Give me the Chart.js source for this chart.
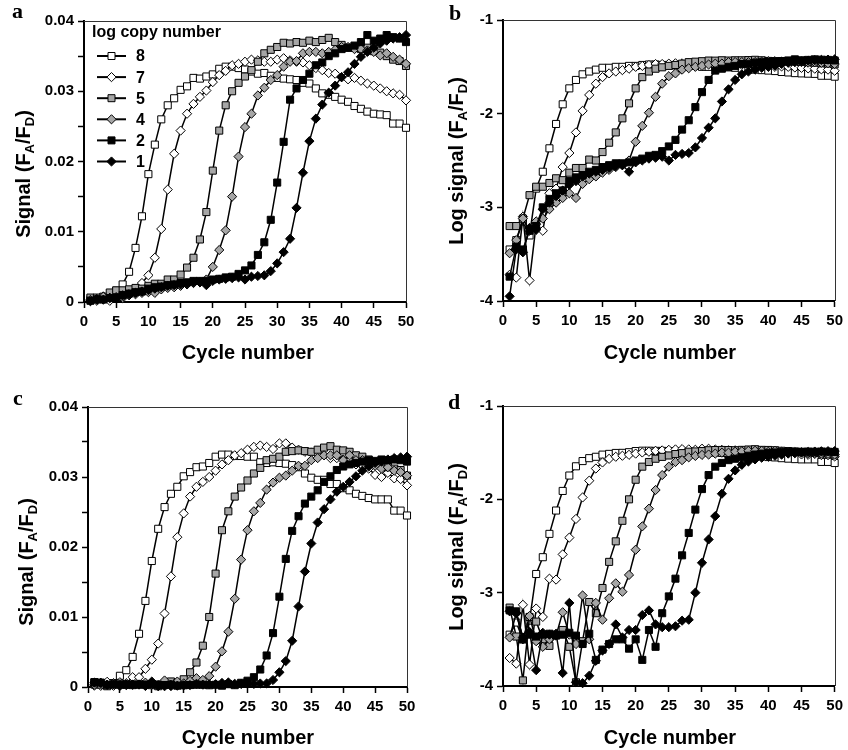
<!DOCTYPE html>
<html lang="en">
<head>
<meta charset="UTF-8">
<title>Signal vs cycle number</title>
<script src="https://cdn.jsdelivr.net/npm/chart.js"></script>
<style>
  body { margin: 0; background: #fff; }
  #page { position: relative; width: 848px; height: 750px; background: #fff;
          font-family: "Liberation Sans", Arial, sans-serif; font-weight: bold; color: #000; }
  canvas { position: absolute; }
  .letter { position: absolute; font-family: "Liberation Serif", "Times New Roman", serif;
            font-weight: bold; font-size: 22px; line-height: 22px; }
  .xtitle { position: absolute; font-size: 20px; line-height: 20px; white-space: nowrap;
            transform: translateX(-50%); }
  .ytitle { position: absolute; font-size: 20px; line-height: 20px; white-space: nowrap;
            transform: translate(-50%, -50%) rotate(-90deg); }
  .sb { font-size: 13px; position: relative; top: 4px; }
</style>
</head>
<body>
<div id="page">
  <canvas id="chartA" width="424" height="375" style="left:0;top:0"></canvas>
  <canvas id="chartB" width="424" height="375" style="left:424px;top:0"></canvas>
  <canvas id="chartC" width="424" height="375" style="left:0;top:375px"></canvas>
  <canvas id="chartD" width="424" height="375" style="left:424px;top:375px"></canvas>

  <div class="letter" style="left:12px;top:0">a</div>
  <div class="letter" style="left:449px;top:2px">b</div>
  <div class="letter" style="left:13px;top:387px">c</div>
  <div class="letter" style="left:448px;top:391px">d</div>

  <div class="ytitle" style="left:24px;top:174px">Signal (F<span class="sb">A</span>/F<span class="sb">D</span>)</div>
  <div class="ytitle" style="left:457px;top:161px">Log signal (F<span class="sb">A</span>/F<span class="sb">D</span>)</div>
  <div class="ytitle" style="left:27px;top:562px">Signal (F<span class="sb">A</span>/F<span class="sb">D</span>)</div>
  <div class="ytitle" style="left:457px;top:547px">Log signal (F<span class="sb">A</span>/F<span class="sb">D</span>)</div>

  <div class="xtitle" style="left:248px;top:342px">Cycle number</div>
  <div class="xtitle" style="left:670px;top:342px">Cycle number</div>
  <div class="xtitle" style="left:248px;top:727px">Cycle number</div>
  <div class="xtitle" style="left:670px;top:727px">Cycle number</div>
</div>

<script>
// cycle numbers on the x axis
var cycles = [1,2,3,4,5,6,7,8,9,10,11,12,13,14,15,16,17,18,19,20,21,22,23,24,25,
              26,27,28,29,30,31,32,33,34,35,36,37,38,39,40,41,42,43,44,45,46,47,48,49,50];

// legend: log copy number of each series
var copyNumbers = ['8', '7', '5', '4', '2', '1'];

// panel a - signal
var a8 = [0.0004,0.00045,0.0007,0.0005,0.0016,0.0025,0.0043,0.0077,0.0122,0.0182,0.0224,0.026,0.028,0.029,0.0302,0.0307,0.0319,0.0318,0.0321,0.0324,0.0332,0.0335,0.0335,0.0333,0.0331,0.0328,0.0325,0.0326,0.0322,0.0319,0.0318,0.0317,0.0316,0.0312,0.0311,0.0304,0.0297,0.0295,0.0292,0.0288,0.0285,0.0279,0.0275,0.0271,0.0268,0.0267,0.0266,0.0254,0.0254,0.0248];
var a7 = [0.0002,0.00018,0.0008,0.00017,0.00066,0.00056,0.0014,0.0016,0.0027,0.0038,0.0063,0.0104,0.016,0.0211,0.0244,0.0268,0.0282,0.0292,0.0301,0.0313,0.0323,0.0329,0.0337,0.0339,0.0342,0.0345,0.0344,0.0342,0.0342,0.0345,0.0347,0.0344,0.0342,0.0341,0.0337,0.0333,0.033,0.0326,0.0325,0.032,0.0317,0.0319,0.0315,0.0311,0.0308,0.0304,0.03,0.0297,0.0295,0.0287];
var a5 = [0.00063,0.00063,0.00076,0.00135,0.00166,0.00166,0.0018,0.002,0.0019,0.0023,0.0026,0.0026,0.0032,0.0032,0.0039,0.0049,0.0063,0.0089,0.0128,0.0187,0.0244,0.028,0.03,0.0312,0.0321,0.033,0.0342,0.0354,0.0359,0.0363,0.0369,0.0368,0.037,0.0369,0.0372,0.037,0.0373,0.0376,0.037,0.0366,0.0362,0.0362,0.036,0.0362,0.0357,0.0355,0.035,0.0345,0.0343,0.0336];
var a4 = [0.0003,0.00045,0.00076,0.00056,0.0007,0.00076,0.00095,0.0011,0.0013,0.0014,0.0013,0.0018,0.002,0.0021,0.0023,0.0025,0.0027,0.0028,0.0032,0.005,0.0074,0.0102,0.015,0.0207,0.0249,0.0268,0.0294,0.0305,0.0316,0.0323,0.0335,0.0342,0.0343,0.0354,0.0356,0.0356,0.0354,0.0356,0.0359,0.0363,0.0363,0.036,0.036,0.0358,0.0356,0.0351,0.0354,0.0349,0.0345,0.0339];
var a2 = [0.00018,0.00038,0.00035,0.00056,0.00063,0.001,0.0012,0.0014,0.0015,0.0019,0.0021,0.0022,0.0024,0.0025,0.0027,0.0028,0.003,0.003,0.003,0.0032,0.0033,0.0035,0.0036,0.004,0.0045,0.0052,0.0067,0.0085,0.0117,0.017,0.0228,0.0288,0.0304,0.0316,0.0325,0.0337,0.0341,0.035,0.0354,0.036,0.0362,0.0365,0.037,0.038,0.0372,0.0375,0.038,0.0377,0.0375,0.037];
var a1 = [0.00011,0.00035,0.00033,0.0006,0.00058,0.00095,0.0011,0.0013,0.0015,0.0017,0.0019,0.0021,0.0023,0.0024,0.0025,0.0026,0.0028,0.0028,0.0024,0.003,0.0032,0.0033,0.0034,0.0035,0.0032,0.0036,0.0037,0.0038,0.0044,0.0055,0.0071,0.009,0.0134,0.0184,0.0229,0.0261,0.0281,0.0298,0.0308,0.032,0.0327,0.0339,0.0349,0.0356,0.0362,0.0368,0.0372,0.0375,0.0377,0.038];

// panel b - log signal
var b8 = [-3.45,-3.35,-3.15,-3.30,-2.80,-2.62,-2.37,-2.11,-1.90,-1.73,-1.64,-1.58,-1.55,-1.53,-1.51,-1.51,-1.50,-1.50,-1.49,-1.49,-1.48,-1.475,-1.475,-1.48,-1.48,-1.485,-1.49,-1.49,-1.49,-1.50,-1.50,-1.50,-1.50,-1.506,-1.51,-1.52,-1.53,-1.53,-1.535,-1.54,-1.545,-1.555,-1.56,-1.567,-1.57,-1.573,-1.575,-1.595,-1.595,-1.605];
var b7 = [-3.72,-3.75,-3.10,-3.78,-3.18,-3.25,-2.85,-2.80,-2.57,-2.42,-2.20,-1.97,-1.80,-1.68,-1.61,-1.57,-1.55,-1.535,-1.52,-1.50,-1.49,-1.48,-1.47,-1.47,-1.466,-1.462,-1.463,-1.466,-1.466,-1.462,-1.46,-1.463,-1.466,-1.467,-1.47,-1.478,-1.48,-1.487,-1.488,-1.495,-1.50,-1.496,-1.50,-1.507,-1.511,-1.517,-1.52,-1.527,-1.53,-1.542];
var b5 = [-3.2,-3.2,-3.12,-2.87,-2.78,-2.78,-2.74,-2.69,-2.71,-2.63,-2.58,-2.58,-2.49,-2.50,-2.41,-2.31,-2.20,-2.05,-1.89,-1.73,-1.61,-1.55,-1.52,-1.505,-1.49,-1.48,-1.466,-1.45,-1.445,-1.44,-1.433,-1.434,-1.43,-1.433,-1.43,-1.43,-1.428,-1.425,-1.43,-1.437,-1.44,-1.44,-1.444,-1.44,-1.447,-1.45,-1.456,-1.462,-1.465,-1.474];
var b4 = [-3.49,-3.35,-3.12,-3.25,-3.15,-3.12,-3.02,-2.95,-2.90,-2.85,-2.90,-2.75,-2.70,-2.67,-2.63,-2.60,-2.57,-2.55,-2.50,-2.30,-2.13,-1.99,-1.82,-1.68,-1.60,-1.57,-1.53,-1.515,-1.50,-1.49,-1.475,-1.466,-1.465,-1.45,-1.449,-1.449,-1.45,-1.449,-1.445,-1.44,-1.44,-1.444,-1.444,-1.446,-1.449,-1.455,-1.451,-1.457,-1.462,-1.47];
var b2 = [-3.74,-3.42,-3.45,-3.25,-3.20,-3.00,-2.91,-2.85,-2.82,-2.72,-2.68,-2.66,-2.62,-2.60,-2.57,-2.55,-2.53,-2.53,-2.52,-2.50,-2.48,-2.45,-2.44,-2.40,-2.35,-2.28,-2.17,-2.07,-1.93,-1.77,-1.64,-1.54,-1.52,-1.50,-1.49,-1.47,-1.467,-1.456,-1.451,-1.444,-1.441,-1.438,-1.432,-1.42,-1.43,-1.426,-1.42,-1.424,-1.426,-1.432];
var b1 = [-3.95,-3.45,-3.48,-3.22,-3.24,-3.02,-2.95,-2.88,-2.82,-2.76,-2.72,-2.67,-2.64,-2.62,-2.60,-2.58,-2.56,-2.55,-2.62,-2.52,-2.50,-2.48,-2.47,-2.46,-2.50,-2.44,-2.43,-2.42,-2.36,-2.26,-2.15,-2.05,-1.87,-1.74,-1.64,-1.58,-1.55,-1.53,-1.51,-1.50,-1.485,-1.47,-1.457,-1.449,-1.441,-1.434,-1.429,-1.426,-1.423,-1.42];

// panel c - signal
var c8 = [0.00035,0.00048,0.00032,0.0005,0.0016,0.0024,0.0043,0.0076,0.0123,0.018,0.0226,0.0257,0.0276,0.0286,0.0301,0.0307,0.0314,0.0315,0.032,0.0329,0.0332,0.0332,0.033,0.033,0.0329,0.0329,0.0321,0.032,0.0321,0.032,0.0319,0.0317,0.0314,0.0305,0.0299,0.0296,0.0296,0.029,0.029,0.0284,0.0281,0.0276,0.0273,0.027,0.0268,0.0268,0.0268,0.0252,0.0252,0.0245];
var c7 = [0.0002,0.00017,0.00074,0.00017,0.00068,0.00055,0.0014,0.0014,0.0026,0.0039,0.0062,0.0105,0.0158,0.0214,0.0248,0.0272,0.0286,0.0293,0.03,0.0309,0.0318,0.0324,0.0331,0.0334,0.0339,0.0343,0.0345,0.0343,0.034,0.0348,0.0348,0.0342,0.0339,0.0336,0.0335,0.0333,0.0331,0.0327,0.0327,0.0325,0.0323,0.0318,0.0316,0.0312,0.0303,0.03,0.0306,0.0298,0.0297,0.0288];
var c5 = [0.0007,0.00034,0.00011,0.00055,0.00049,0.00032,0.00027,0.00035,0.0004,0.00026,0.00011,0.0003,0.00079,0.0006,0.0011,0.0021,0.0035,0.0059,0.01,0.0162,0.0224,0.0251,0.0272,0.0285,0.0295,0.0305,0.0313,0.0324,0.0326,0.0329,0.0336,0.0337,0.0338,0.0337,0.0336,0.0339,0.0342,0.0344,0.0339,0.0338,0.0336,0.0331,0.0329,0.0325,0.0321,0.0318,0.0314,0.0312,0.031,0.0302];
var c4 = [0.00033,0.0006,0.00032,0.00056,0.0003,0.00026,0.00032,0.00035,0.00062,0.00035,0.00028,0.00093,0.00032,0.00078,0.00051,0.00087,0.00126,0.001,0.00155,0.0029,0.0051,0.0079,0.0126,0.0182,0.0224,0.0251,0.0263,0.0282,0.0292,0.0299,0.0302,0.0309,0.0316,0.0316,0.0324,0.0327,0.0331,0.0331,0.0331,0.0324,0.0331,0.0324,0.0324,0.032,0.0316,0.0312,0.0314,0.0309,0.0307,0.0302];
var c2 = [0.00065,0.00063,0.00032,0.00035,0.00034,0.00035,0.00036,0.00035,0.00035,0.00037,0.00035,0.00028,0.00036,0.00019,0.00025,0.00028,0.00032,0.00032,0.00025,0.00032,0.00019,0.0004,0.00026,0.0006,0.0009,0.0014,0.0025,0.0045,0.0077,0.0129,0.0183,0.0223,0.0244,0.0262,0.0272,0.0281,0.0293,0.0301,0.031,0.0315,0.0318,0.032,0.0322,0.0324,0.0323,0.0325,0.0324,0.0325,0.0324,0.0322];
var c1 = [0.00063,0.0006,0.00033,0.00038,0.00015,0.00037,0.00035,0.00036,0.00014,0.00078,0.00011,0.00011,0.00013,0.00019,0.00024,0.00028,0.00046,0.00033,0.0004,0.0004,0.00058,0.00065,0.00046,0.00043,0.00043,0.00044,0.0005,0.00051,0.001,0.0021,0.0037,0.0066,0.0115,0.0165,0.0205,0.0235,0.0254,0.0268,0.0279,0.0286,0.0293,0.0301,0.0309,0.0315,0.032,0.0322,0.0325,0.0327,0.0328,0.0329];

// panel d - log signal
var d8 = [-3.45,-3.32,-3.50,-3.30,-2.80,-2.62,-2.37,-2.12,-1.91,-1.745,-1.646,-1.59,-1.559,-1.544,-1.521,-1.513,-1.503,-1.502,-1.495,-1.483,-1.479,-1.479,-1.481,-1.481,-1.483,-1.483,-1.494,-1.495,-1.494,-1.495,-1.496,-1.499,-1.503,-1.516,-1.524,-1.529,-1.529,-1.538,-1.538,-1.547,-1.551,-1.559,-1.564,-1.569,-1.572,-1.572,-1.572,-1.599,-1.599,-1.611];
var d7 = [-3.70,-3.76,-3.13,-3.77,-3.17,-3.26,-2.85,-2.86,-2.59,-2.41,-2.21,-1.98,-1.80,-1.67,-1.605,-1.566,-1.544,-1.533,-1.523,-1.51,-1.498,-1.49,-1.48,-1.476,-1.47,-1.465,-1.462,-1.465,-1.469,-1.458,-1.458,-1.466,-1.47,-1.474,-1.475,-1.478,-1.48,-1.485,-1.486,-1.488,-1.491,-1.498,-1.50,-1.506,-1.519,-1.523,-1.514,-1.526,-1.527,-1.541];
var d5 = [-3.16,-3.47,-3.94,-3.26,-3.31,-3.50,-3.57,-3.45,-3.40,-3.58,-3.96,-3.52,-3.10,-3.22,-2.95,-2.67,-2.45,-2.23,-2.00,-1.79,-1.65,-1.60,-1.565,-1.545,-1.53,-1.515,-1.505,-1.49,-1.487,-1.483,-1.474,-1.472,-1.471,-1.472,-1.474,-1.47,-1.466,-1.463,-1.47,-1.471,-1.474,-1.48,-1.483,-1.488,-1.494,-1.498,-1.503,-1.506,-1.509,-1.52];
var d4 = [-3.48,-3.22,-3.50,-3.25,-3.52,-3.58,-3.50,-3.46,-3.21,-3.45,-3.55,-3.03,-3.50,-3.11,-3.29,-3.06,-2.90,-2.99,-2.81,-2.54,-2.29,-2.10,-1.90,-1.74,-1.65,-1.60,-1.58,-1.55,-1.535,-1.524,-1.52,-1.51,-1.50,-1.50,-1.49,-1.485,-1.48,-1.48,-1.48,-1.49,-1.48,-1.49,-1.49,-1.495,-1.50,-1.506,-1.503,-1.51,-1.513,-1.52];
var d2 = [-3.19,-3.20,-3.50,-3.45,-3.47,-3.45,-3.44,-3.46,-3.45,-3.43,-3.46,-3.55,-3.44,-3.72,-3.61,-3.55,-3.50,-3.50,-3.60,-3.50,-3.72,-3.40,-3.58,-3.22,-3.04,-2.85,-2.60,-2.36,-2.11,-1.89,-1.74,-1.65,-1.61,-1.58,-1.565,-1.55,-1.533,-1.52,-1.51,-1.502,-1.498,-1.495,-1.492,-1.49,-1.49,-1.488,-1.49,-1.488,-1.49,-1.492];
var d1 = [-3.20,-3.22,-3.48,-3.42,-3.83,-3.43,-3.45,-3.44,-3.86,-3.11,-3.96,-3.97,-3.89,-3.73,-3.62,-3.55,-3.34,-3.48,-3.40,-3.40,-3.24,-3.19,-3.34,-3.37,-3.37,-3.36,-3.30,-3.29,-3.00,-2.68,-2.43,-2.18,-1.94,-1.78,-1.69,-1.63,-1.595,-1.572,-1.554,-1.544,-1.533,-1.521,-1.51,-1.502,-1.495,-1.492,-1.488,-1.485,-1.484,-1.483];

// marker look per series (8, 7, 5, 4, 2, 1)
var markerShapes = ['rect', 'rectRot', 'rect', 'rectRot', 'rect', 'rectRot'];
var markerFills = ['#ffffff', '#ffffff', '#a6a6a6', '#a6a6a6', '#000000', '#000000'];
var markerSizes = { rect: 5, rectRot: 4.6 };

var fontFamily = '"Liberation Sans", Arial, sans-serif';

function drawMarker(ctx, shape, x, y, fill) {
    ctx.beginPath();
    if (shape === 'rect') {
        ctx.rect(x - 3.5, y - 3.5, 7, 7);
    } else {
        ctx.moveTo(x, y - 4.6);
        ctx.lineTo(x + 4.6, y);
        ctx.lineTo(x, y + 4.6);
        ctx.lineTo(x - 4.6, y);
        ctx.closePath();
    }
    ctx.fillStyle = fill;
    ctx.fill();
    ctx.lineWidth = 1;
    ctx.strokeStyle = '#000';
    ctx.stroke();
}

// thin frame on top and right of the plot
var framePlugin = {
    id: 'frame',
    beforeDatasetsDraw: function(chart) {
        var ctx = chart.ctx, ca = chart.chartArea;
        ctx.save();
        ctx.strokeStyle = '#333';
        ctx.lineWidth = 1;
        ctx.beginPath();
        ctx.moveTo(ca.left, Math.round(ca.top) + 0.5);
        ctx.lineTo(Math.round(ca.right) + 0.5, Math.round(ca.top) + 0.5);
        ctx.lineTo(Math.round(ca.right) + 0.5, ca.bottom);
        ctx.stroke();
        ctx.restore();
    }
};

// legend drawn inside panel a
var legendPlugin = {
    id: 'inlineLegend',
    afterDatasetsDraw: function(chart, args, opts) {
        if (!opts.show) return;
        var ctx = chart.ctx;
        ctx.save();
        ctx.fillStyle = '#000';
        ctx.font = 'bold 16px ' + fontFamily;
        ctx.textBaseline = 'middle';
        ctx.textAlign = 'left';
        ctx.fillText('log copy number', 92, 33);
        for (var i = 0; i < copyNumbers.length; i++) {
            var y = 56 + i * 21.1;
            ctx.strokeStyle = '#000';
            ctx.lineWidth = 2;
            ctx.beginPath();
            ctx.moveTo(97, y);
            ctx.lineTo(126, y);
            ctx.stroke();
            drawMarker(ctx, markerShapes[i], 111.5, y, markerFills[i]);
            ctx.fillStyle = '#000';
            ctx.font = 'bold 16px ' + fontFamily;
            ctx.fillText(copyNumbers[i], 136, y + 1);
        }
        ctx.restore();
    }
};

function makeDatasets(series) {
    return series.map(function(vals, i) {
        return {
            label: copyNumbers[i],
            data: cycles.map(function(c, k) { return { x: c, y: vals[k] }; }),
            borderColor: '#000',
            borderWidth: 1.5,
            pointStyle: markerShapes[i],
            pointRadius: markerSizes[markerShapes[i]],
            pointBackgroundColor: markerFills[i],
            pointBorderColor: '#000',
            pointBorderWidth: 1,
            tension: 0,
            clip: false,
            order: series.length - i
        };
    });
}

function makeChart(canvasId, series, isLog, box, showLegend) {
    var tickFont = { family: fontFamily, size: 15, weight: 'bold' };
    var yScale = isLog ? {
        type: 'linear', min: -4, max: -1,
        ticks: { stepSize: 1, color: '#000', font: tickFont, padding: 4,
                 callback: function(v) { return String(v); } }
    } : {
        type: 'linear', min: 0, max: 0.04,
        ticks: { stepSize: 0.005, color: '#000', font: tickFont, padding: 4, autoSkip: false,
                 callback: function(v) {
                     if (Math.abs(v) < 1e-9) return '0';
                     var r = Math.round(v * 100);
                     return Math.abs(v * 100 - r) < 1e-6 ? (r / 100).toFixed(2) : '';
                 } }
    };
    yScale.grid = { drawOnChartArea: false, drawTicks: true, tickLength: 6, tickColor: '#000', tickWidth: 1.5 };
    yScale.border = { display: true, color: '#000', width: 2 };
    yScale.afterFit = function(s) { s.width = box.left; };

    new Chart(document.getElementById(canvasId), {
        type: 'line',
        data: { datasets: makeDatasets(series) },
        options: {
            responsive: false,
            animation: false,
            devicePixelRatio: 1,
            layout: { autoPadding: false, padding: { left: 0, top: box.top, right: box.right, bottom: 0 } },
            plugins: { legend: { display: false }, tooltip: { enabled: false },
                       inlineLegend: { show: showLegend } },
            scales: {
                x: {
                    type: 'linear', min: 0, max: 50,
                    ticks: { stepSize: 5, color: '#000', font: tickFont, padding: 5, maxRotation: 0, autoSkip: false },
                    grid: { drawOnChartArea: false, drawTicks: true, tickLength: 6, tickColor: '#000', tickWidth: 1.5 },
                    border: { display: true, color: '#000', width: 2 },
                    afterFit: function(s) { s.height = box.bottom; }
                },
                y: yScale
            }
        },
        plugins: [framePlugin, legendPlugin]
    });
}

// box: y-axis width (left), top padding, right padding, x-axis height (bottom)
makeChart('chartA', [a8, a7, a5, a4, a2, a1], false, { left: 84, top: 21, right: 18, bottom: 73 }, true);
makeChart('chartB', [b8, b7, b5, b4, b2, b1], true,  { left: 79, top: 20, right: 10, bottom: 74 }, false);
makeChart('chartC', [c8, c7, c5, c4, c2, c1], false, { left: 88, top: 32, right: 17, bottom: 63 }, false);
makeChart('chartD', [d8, d7, d5, d4, d2, d1], true,  { left: 79, top: 31, right: 10, bottom: 64 }, false);
</script>
</body>
</html>
